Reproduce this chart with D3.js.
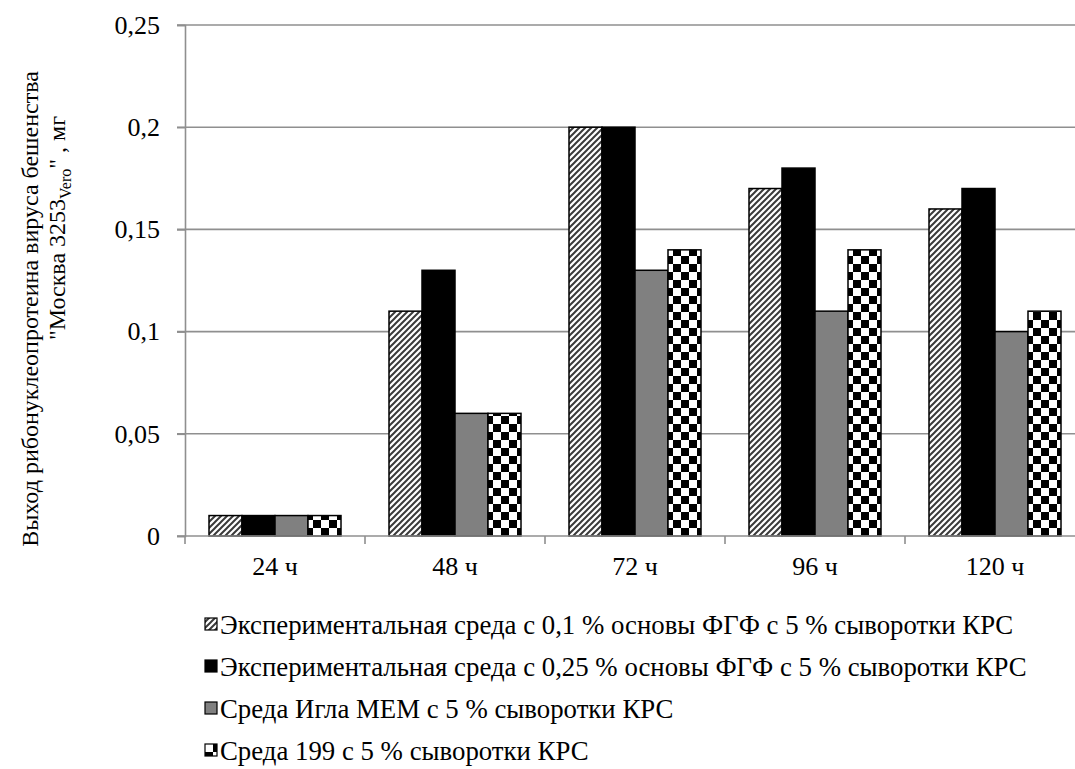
<!DOCTYPE html>
<html>
<head>
<meta charset="utf-8">
<script src="https://cdn.jsdelivr.net/npm/d3@7"></script>
<style>
  html, body { margin: 0; padding: 0; background: #fff; }
  svg { display: block; }
</style>
</head>
<body>
<svg id="chart" width="1075" height="769"></svg>
<script>
// Time points after infection
const categories = ["24 ч", "48 ч", "72 ч", "96 ч", "120 ч"];

// Series names (legend order)
const seriesNames = [
  "Экспериментальная среда с 0,1 % основы ФГФ с 5 % сыворотки КРС",
  "Экспериментальная среда с 0,25 % основы ФГФ с 5 % сыворотки КРС",
  "Среда Игла МЕМ с 5 % сыворотки КРС",
  "Среда 199 с 5 % сыворотки КРС"
];

// Yield, mg, per time point
const fgf01 = [0.01, 0.11, 0.20, 0.17, 0.16];
const fgf025 = [0.01, 0.13, 0.20, 0.18, 0.17];
const eagleMem = [0.01, 0.06, 0.13, 0.11, 0.10];
const medium199 = [0.01, 0.06, 0.14, 0.14, 0.11];

const yTicks = [0, 0.05, 0.1, 0.15, 0.2, 0.25];

const seriesValues = [fgf01, fgf025, eagleMem, medium199];
const fills = ["url(#hatch)", "#000000", "#808080", "url(#checker)"];

const FONT = "'Liberation Serif', 'Times New Roman', serif";

const svg = d3.select("#chart").attr("font-family", FONT);

// Fill patterns
const defs = svg.append("defs");
const hatch = defs.append("pattern")
  .attr("id", "hatch").attr("patternUnits", "userSpaceOnUse")
  .attr("width", 6).attr("height", 6);
hatch.append("rect").attr("width", 6).attr("height", 6).attr("fill", "#fff");
hatch.append("path")
  .attr("d", "M-1,7 L7,-1 M-4,4 L4,-4 M2,10 L10,2")
  .attr("stroke", "#3a3a3a").attr("stroke-width", 2);

const checker = defs.append("pattern")
  .attr("id", "checker").attr("patternUnits", "userSpaceOnUse")
  .attr("width", 16).attr("height", 16);
checker.append("rect").attr("width", 16).attr("height", 16).attr("fill", "#fff");
checker.append("rect").attr("x", 8).attr("y", 0).attr("width", 8).attr("height", 8).attr("fill", "#000");
checker.append("rect").attr("x", 0).attr("y", 8).attr("width", 8).attr("height", 8).attr("fill", "#000");

// Scales
const x = d3.scaleBand().domain(categories).range([185, 1085]).padding(0);
const xInner = d3.scaleBand().domain(d3.range(seriesNames.length))
  .range([24, x.bandwidth() - 24]).padding(0);
const y = d3.scaleLinear().domain([0, 0.25]).range([536, 25]);

const fmt = v => (v === 0 ? "0" : String(v).replace(".", ","));
const gridColor = "#8f8f8f";

// Gridlines
svg.append("g").selectAll("line").data(yTicks.filter(t => t > 0)).join("line")
  .attr("x1", 177).attr("x2", 1085)
  .attr("y1", d => y(d)).attr("y2", d => y(d))
  .attr("stroke", gridColor).attr("stroke-width", 1.6);

// Y axis
const yAxis = svg.append("g").attr("transform", "translate(185,0)")
  .call(d3.axisLeft(y).tickValues(yTicks).tickFormat(fmt).tickSize(8).tickPadding(17));
yAxis.attr("font-family", FONT).attr("font-size", 26);
yAxis.select(".domain").attr("stroke", gridColor).attr("stroke-width", 1.6);
yAxis.selectAll(".tick line").attr("stroke", gridColor).attr("stroke-width", 1.6);
yAxis.selectAll("text").attr("fill", "#000");

// Bars
const groups = svg.append("g").selectAll("g").data(categories).join("g")
  .attr("transform", d => `translate(${x(d)},0)`);
groups.selectAll("rect")
  .data((c, i) => seriesValues.map((vals, s) => ({ s, v: vals[i] })))
  .join("rect")
  .attr("x", d => xInner(d.s))
  .attr("width", xInner.bandwidth())
  .attr("y", d => y(d.v))
  .attr("height", d => y(0) - y(d.v))
  .attr("fill", d => fills[d.s])
  .attr("stroke", "#000").attr("stroke-width", 1.5);

// X axis
const xAxis = svg.append("g").attr("transform", "translate(0,536)")
  .call(d3.axisBottom(x).tickSize(0).tickPadding(21));
xAxis.attr("font-family", FONT).attr("font-size", 26);
xAxis.select(".domain").attr("stroke", gridColor).attr("stroke-width", 1.6)
  .attr("d", "M177,0H1085");
xAxis.selectAll("text").attr("fill", "#000");
svg.append("g").selectAll("line").data(categories).join("line")
  .attr("x1", d => x(d)).attr("x2", d => x(d))
  .attr("y1", 536).attr("y2", 544)
  .attr("stroke", gridColor).attr("stroke-width", 1.6);

// Y axis title (two lines, rotated)
svg.append("text")
  .attr("transform", "translate(38,309) rotate(-90)")
  .attr("text-anchor", "middle").attr("font-size", 24)
  .text("Выход рибонуклеопротеина вируса бешенства");
const title2 = svg.append("text")
  .attr("transform", "translate(65,228) rotate(-90)")
  .attr("text-anchor", "middle").attr("font-size", 24);
title2.append("tspan").text("\"Москва 3253");
title2.append("tspan").attr("font-size", 16).attr("dy", 6).text("Vero");
title2.append("tspan").attr("dy", -6).text("\" , мг");

// Legend
const legend = svg.append("g").selectAll("g").data(seriesNames).join("g")
  .attr("transform", (d, i) => `translate(205,${634 + i * 42})`);
legend.append("rect")
  .attr("x", 0).attr("y", -16).attr("width", 12).attr("height", 12)
  .attr("fill", (d, i) => fills[i]).attr("stroke", "#000").attr("stroke-width", 1.2);
legend.append("text")
  .attr("x", 15).attr("y", 0).attr("font-size", 26.8)
  .text(d => d);
</script>
</body>
</html>
